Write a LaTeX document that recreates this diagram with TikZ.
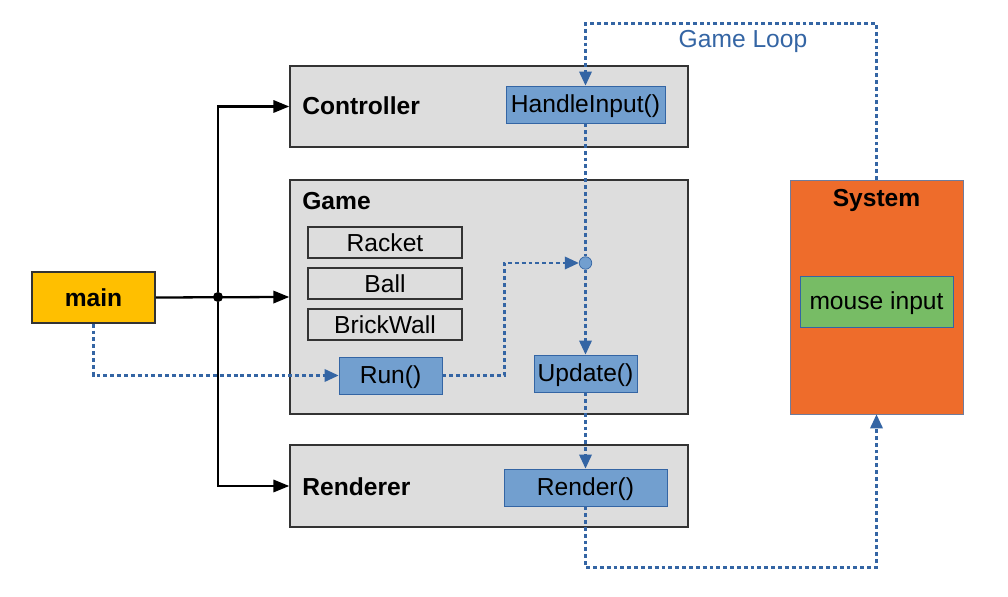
\documentclass[tikz,border=0pt]{standalone}
\usepackage{fontspec}
\setmainfont{Liberation Sans}
\usepackage{xcolor}
\usepackage{tikz}
\usetikzlibrary{positioning,arrows.meta,calc}
\definecolor{modgray}{HTML}{DDDDDD}
\definecolor{mfill}{HTML}{729FCF}
\definecolor{mline}{HTML}{3465A4}
\definecolor{cmain}{HTML}{FFBF00}
\definecolor{csys}{HTML}{EE6C2B}
\definecolor{csysline}{HTML}{6F7C9C}
\definecolor{cmouse}{HTML}{77BC65}

\begin{document}
\begin{tikzpicture}[
  x=0.02cm, y=-0.02cm,
  font=\fontsize{14}{17}\selectfont,
  >={Triangle[length=8pt,width=7pt]},
  module/.style={draw=black!80, line width=0.9pt, fill=modgray, inner sep=0pt, minimum width=7.96cm},
  member/.style={draw=black!80, line width=0.9pt, fill=modgray, inner sep=0pt, minimum width=3.08cm, minimum height=0.62cm},
  method/.style={draw=mline, fill=mfill, inner sep=0pt, minimum height=0.74cm, text height=12pt, text depth=2.5pt},
  title/.style={font=\fontsize{14}{17}\selectfont\bfseries, inner sep=0pt},
  flow/.style={mline, line width=1.4pt, dash pattern=on 2.2pt off 1.7pt},
  wire/.style={black, line width=1.3pt, -{Triangle[length=9pt,width=7pt]}},
  dot/.style={circle, fill=black, inner sep=0pt, minimum size=0.2cm},
  junc/.style={circle, draw=mline, fill=mfill, inner sep=0pt, minimum size=0.25cm}
]
  \useasboundingbox (0,0) rectangle (1008,597);

  % Hàm main
  \node[draw=black!80, line width=0.9pt, fill=cmain, minimum width=2.46cm, minimum height=1.02cm, inner sep=0pt] (main) at (93.5,297.5) {};
  \node[title] at (main) {main};

  % Các module
  \node[module, minimum height=1.62cm] (ctrl) at (489,106.5) {};
  \node[title, anchor=west] (ctrlname) at (302,106) {Controller};
  \node[method, minimum width=3.18cm] (handle) at (585.5,104.5) {HandleInput()};

  \node[module, minimum height=4.68cm] (game) at (489,297) {};
  \node[title, anchor=west] (gamename) at (302,201) {Game};
  \node[member] (racket) at (385,242.5) {Racket};
  \node[member] (ball) at (385,283.5) {Ball};
  \node[member] (wall) at (385,324.5) {BrickWall};
  \node[method, minimum width=2.06cm] (run) at (390.5,375.5) {Run()};
  \node[method, minimum width=2.06cm] (update) at (585.5,373.5) {Update()};
  \node[junc] (meet) at (585.5,263) {};

  \node[module, minimum height=1.64cm] (rend) at (489,486) {};
  \node[title, anchor=west] (rendname) at (302,487) {Renderer};
  \node[method, minimum width=3.26cm] (render) at (585.5,487.5) {Render()};

  % Hệ thống
  \node[draw=csysline, fill=csys, minimum width=3.46cm, minimum height=4.68cm, inner sep=0pt] (sys) at (876.5,297) {};
  \node[title] (sysname) at (876.5,200) {System};
  \node[draw=mline, fill=cmouse, minimum width=3.06cm, minimum height=1.02cm, inner sep=0pt, text height=12pt, text depth=2.5pt] (mouse) at (876.5,301.5) {mouse input};

  \node[text=mline] (looplbl) at (743,41) {Game Loop};

  % Dây nối đen
  \node[dot] (split) at (218,297) {};
  \draw[wire] (main.east) -- (game.west);
  \draw[wire] (split) |- (ctrl.west);
  \draw[wire] (split) |- (rend.west);

  % Vòng lặp game
  \draw[flow, ->] (sys.north) -- ++(0,-156) -| (handle.north);
  \draw[flow] (handle.south) -- (meet);
  \draw[flow, ->] (meet) -- (update.north);
  \draw[flow, ->] (main.south) |- (run.west);
  \draw[flow, ->] (run.east) -- ++(62,0) |- (meet.west);
  \draw[flow, ->] (update.south) -- (render.north);
  \draw[flow, ->] (render.south) -- ++(0,61) -| (sys.south);

\end{tikzpicture}
\end{document}
